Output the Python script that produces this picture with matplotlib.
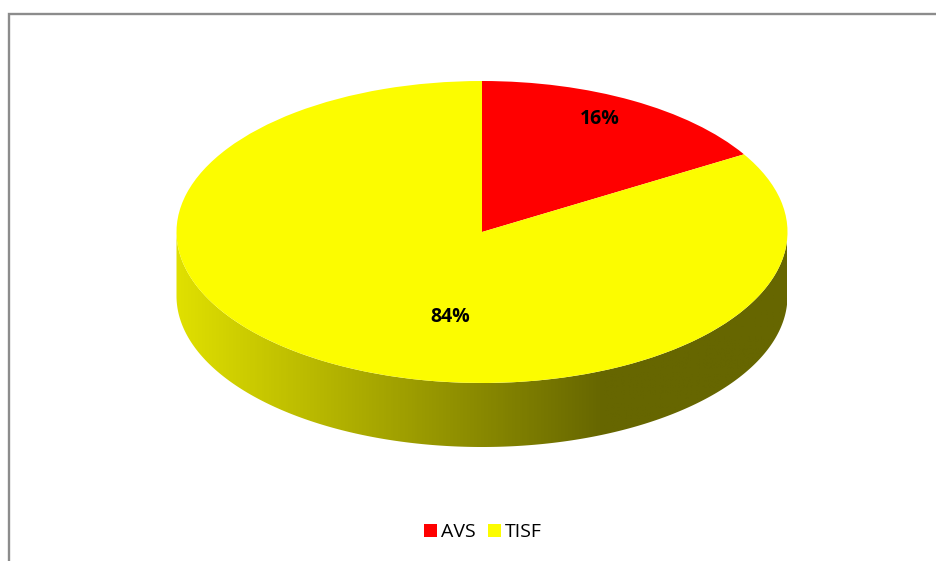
import numpy as np
import matplotlib
matplotlib.use("Agg")
import matplotlib.pyplot as plt
from matplotlib.colors import LinearSegmentedColormap
from matplotlib.patches import Polygon

W, H = 937, 561
categories = ["AVS", "TISF"]
shares = [16.4, 83.6]
colors = ["#ff0000", "#fcfc00"]
side_positions = [0.0, 0.70, 1.0]
side_colors = ["#e0e000", "#666600", "#666600"]

plt.rcParams["font.family"] = ["Open Sans", "DejaVu Sans"]
fig = plt.figure(figsize=(W / 100, H / 100), dpi=100, facecolor="white")

# background layer in pixel coordinates
bg = fig.add_axes([0, 0, 1, 1])
bg.set_xlim(0, W)
bg.set_ylim(H, 0)
bg.axis("off")
bg.plot([9.5, 9.5, W], [H, 13.5, 13.5], color="#8c8c8c", lw=1.7, solid_joinstyle="miter")

cx, cy, rx, ry, depth = 482, 232, 305.5, 151, 64
t = np.linspace(0, np.pi, 300)
xs = cx + rx * np.cos(t)
ys = cy + ry * np.sin(t)
outline = np.r_[np.c_[xs, ys + depth], np.c_[xs[::-1], ys[::-1]]]
clip = Polygon(outline, transform=bg.transData, fc="none", ec="none")
bg.add_patch(clip)
cmap = LinearSegmentedColormap.from_list("side", list(zip(side_positions, side_colors)))
img = bg.imshow(np.linspace(0, 1, 512)[None, :], extent=[cx - rx, cx + rx, cy + ry + depth, cy],
                cmap=cmap, aspect="auto", zorder=1)
img.set_clip_path(clip)
bg.set_xlim(0, W)
bg.set_ylim(H, 0)

# pie top, squashed by an axes with free aspect
ax = fig.add_axes([(cx - rx) / W, 1 - (cy + ry) / H, 2 * rx / W, 2 * ry / H])
ax.patch.set_alpha(0)
wedges, _, autotexts = ax.pie(
    shares, colors=colors, startangle=90, counterclock=False, radius=1,
    autopct="%.0f%%", pctdistance=0.62,
    wedgeprops={"linewidth": 0},
    textprops={"fontsize": 14, "fontweight": "bold", "color": "black"},
)
ax.set_aspect("auto")
ax.set_xlim(-1, 1)
ax.set_ylim(-1, 1)
autotexts[0].set_position((0.385, 0.75))
autotexts[1].set_position((-0.105, -0.56))

fig.legend(wedges, categories, loc="center", bbox_to_anchor=(483 / W, 1 - 532 / H), ncol=2,
           frameon=False, fontsize=14, handlelength=0.68, handleheight=0.68,
           handletextpad=0.2, columnspacing=0.65, labelcolor="black")

fig.savefig("out.png", dpi=100)
